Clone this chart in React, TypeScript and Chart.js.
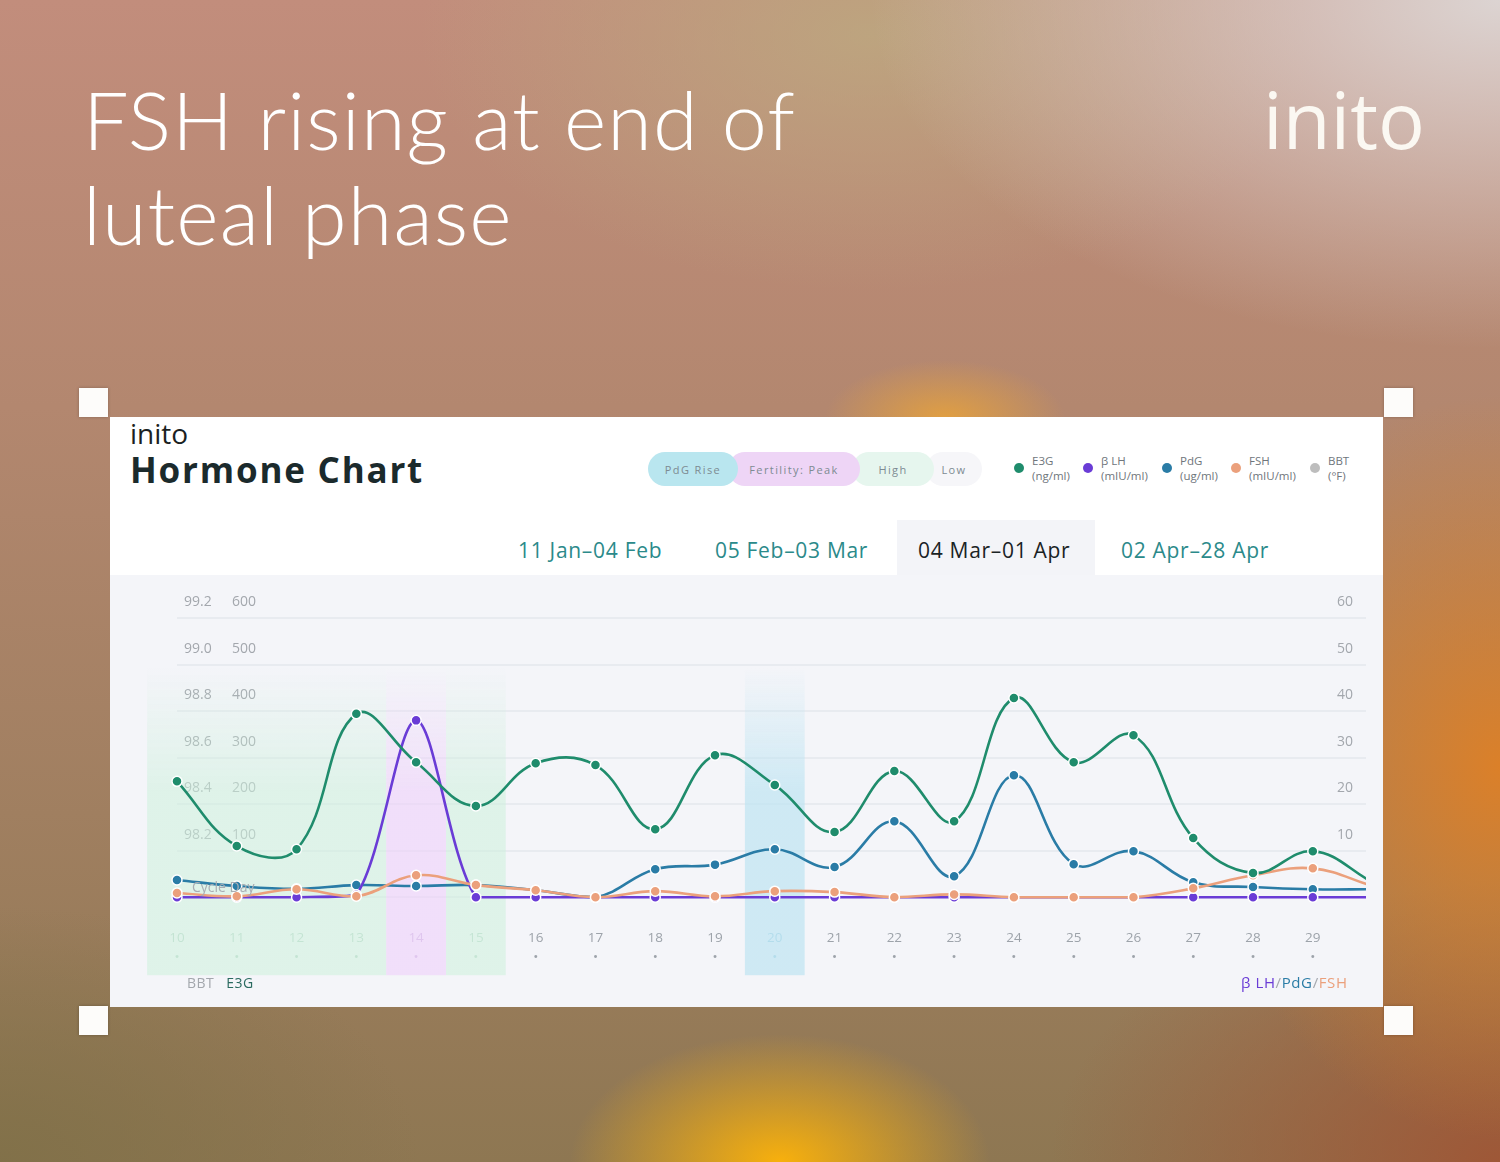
import React, { useEffect, useRef } from 'react';
import { Chart, registerables } from 'chart.js';

Chart.register(...registerables);

// ---- data ----
const days = [10, 11, 12, 13, 14, 15, 16, 17, 18, 19, 20, 21, 22, 23, 24, 25, 26, 27, 28, 29, 30];
const tickDays = [10, 11, 12, 13, 14, 15, 16, 17, 18, 19, 20, 21, 22, 23, 24, 25, 26, 27, 28, 29];
const e3g = [249, 110, 103, 394, 290, 196, 288, 284, 146, 305, 241, 140, 271, 163, 428, 290, 348, 127, 52, 99, 32];
const lh = [0, 0, 0, 0.5, 38, 0, 0, 0, 0, 0, 0, 0, 0, 0, 0, 0, 0, 0, 0, 0, 0];
const pdg = [3.7, 2.4, 1.8, 2.6, 2.4, 2.6, 1.5, 0, 6, 7, 10.3, 6.5, 16.3, 4.5, 26.2, 7.1, 9.9, 3.2, 2.2, 1.7, 1.7];
const fsh = [0.9, 0.2, 1.7, 0.2, 4.7, 2.6, 1.5, 0, 1.3, 0.2, 1.3, 1.1, 0, 0.6, 0, 0, 0, 1.9, 4.7, 6.2, 2.4];
const e3gTicks = [0, 100, 200, 300, 400, 500, 600];
const bbtTicks = [98.0, 98.2, 98.4, 98.6, 98.8, 99.0, 99.2];
const hormoneTicks = [0, 10, 20, 30, 40, 50, 60];
const bandStart = [10, 14, 15, 20];
const bandEnd = [13, 14, 15, 20];
const bandKind = ['high', 'peak', 'high', 'rise'];

const COLORS = {
  e3g: '#1f8c6c',
  lh: '#6a3cd6',
  pdg: '#2a7ca6',
  fsh: '#eba07c',
  bbt: '#bdbdbd',
};

const bandColor: Record<string, string> = {
  high: 'rgba(205,240,220,0.55)',
  peak: 'rgba(238,208,250,0.6)',
  rise: 'rgba(190,228,242,0.7)',
};

const FONT = "'Open Sans', 'Noto Sans', sans-serif";

const bandPlugin = {
  id: 'bands',
  beforeDatasetsDraw(chart: any) {
    const { ctx, chartArea, scales } = chart;
    const x = scales.x;
    ctx.save();
    for (let i = 0; i < bandStart.length; i++) {
      const x1 = x.getPixelForValue(bandStart[i] - 0.5);
      const x2 = x.getPixelForValue(bandEnd[i] + 0.5);
      const top = chartArea.top + 50;
      const bottom = chartArea.bottom + 78;
      const col = bandColor[bandKind[i]];
      const g = ctx.createLinearGradient(0, top, 0, bottom);
      g.addColorStop(0, col.replace(/[\d.]+\)$/, '0)'));
      g.addColorStop(0.4, col);
      g.addColorStop(1, col);
      ctx.fillStyle = g;
      ctx.fillRect(x1, top, x2 - x1, bottom - top);
    }
    ctx.restore();
  },
};

function makeDs(label: string, data: number[], color: string, axis: string, order: number, tension = 0.4) {
  return {
    label,
    data: days.map((d, i) => ({ x: d, y: data[i] })),
    borderColor: color,
    backgroundColor: color,
    pointBackgroundColor: color,
    pointBorderColor: '#ffffff',
    pointBorderWidth: 1.5,
    pointRadius: days.map((d) => (d === 30 ? 0 : 5)),
    borderWidth: 2.6,
    tension,
    yAxisID: axis,
    order,
    clip: { left: 8, right: 0, top: 20, bottom: 20 },
  };
}

const flatFit = (s: any) => {
  s.width = 0;
  s.paddingTop = 0;
  s.paddingBottom = 0;
};

function HormoneChart() {
  const ref = useRef<HTMLCanvasElement | null>(null);
  useEffect(() => {
    if (!ref.current) return;
    const chart = new Chart(ref.current, {
      type: 'line',
      data: {
        datasets: [
          makeDs('E3G', e3g, COLORS.e3g, 'y', 0),
          makeDs('FSH', fsh, COLORS.fsh, 'y2', 1),
          makeDs('β LH', lh, COLORS.lh, 'y2', 2, 0.3),
          makeDs('PdG', pdg, COLORS.pdg, 'y2', 3),
        ],
      },
      options: {
        animation: false,
        responsive: false,
        maintainAspectRatio: false,
        layout: { padding: { left: 67, right: 17, top: 43, bottom: 14 } },
        plugins: { legend: { display: false }, tooltip: { enabled: false } },
        scales: {
          x: {
            type: 'linear',
            min: 10,
            max: 29.89,
            grid: { display: false },
            border: { display: false },
            afterBuildTicks: (axis: any) => {
              axis.ticks = tickDays.map((v) => ({ value: v }));
            },
            ticks: {
              padding: 24,
              maxRotation: 0,
              autoSkip: false,
              font: { family: FONT, size: 13.5, lineHeight: 1.4 },
              color: (c: any) => {
                const v = c.tick && c.tick.value;
                if (v >= 10 && v <= 13) return '#b9d6c8';
                if (v === 14) return '#c9b7dc';
                if (v === 15) return '#bcd8cb';
                if (v === 20) return '#9ccbdc';
                return '#9da3aa';
              },
              callback: (v: any) => [String(v), '•'],
            },
          },
          yb: {
            position: 'left',
            min: 98.0,
            max: 99.2,
            afterBuildTicks: (axis: any) => {
              axis.ticks = bbtTicks.map((v) => ({ value: v }));
            },
            afterFit: flatFit,
            grid: { display: false },
            border: { display: false },
            ticks: {
              mirror: true,
              padding: 7,
              labelOffset: -16,
              color: '#a3a7ad',
              font: { family: FONT, size: 14 },
              callback: (v: any) => (Math.abs(v - 98) < 0.01 ? '' : Number(v).toFixed(1)),
            },
          },
          y: {
            position: 'left',
            min: 0,
            max: 600,
            afterBuildTicks: (axis: any) => {
              axis.ticks = e3gTicks.map((v) => ({ value: v }));
            },
            afterFit: flatFit,
            grid: { display: true, color: '#e8ebf0', lineWidth: 2, drawTicks: false },
            border: { display: false },
            ticks: {
              mirror: true,
              padding: 55,
              labelOffset: -16,
              color: '#a3a7ad',
              font: { family: FONT, size: 14 },
              callback: (v: any) => (v === 0 ? '' : String(v)),
            },
          },
          y2: {
            position: 'right',
            min: 0,
            max: 60,
            afterBuildTicks: (axis: any) => {
              axis.ticks = hormoneTicks.map((v) => ({ value: v }));
            },
            afterFit: flatFit,
            grid: { display: false },
            border: { display: false },
            ticks: {
              mirror: true,
              padding: -13,
              labelOffset: -16,
              color: '#a3a7ad',
              font: { family: FONT, size: 14 },
              callback: (v: any) => (v === 0 ? '' : String(v)),
            },
          },
        },
      } as any,
      plugins: [bandPlugin],
    });
    return () => chart.destroy();
  }, []);
  return <canvas ref={ref} width={1273} height={430} style={{ position: 'absolute', left: 0, top: 0 }} />;
}

const legendItems = [
  { name: 'E3G', unit: '(ng/ml)', color: COLORS.e3g, x: 1019 },
  { name: 'β LH', unit: '(mIU/ml)', color: COLORS.lh, x: 1088 },
  { name: 'PdG', unit: '(ug/ml)', color: COLORS.pdg, x: 1167 },
  { name: 'FSH', unit: '(mIU/ml)', color: COLORS.fsh, x: 1236 },
  { name: 'BBT', unit: '(°F)', color: COLORS.bbt, x: 1315 },
];

const pills = [
  { label: 'PdG Rise', bg: '#b9e6ef', x: 648, w: 90 },
  { label: 'Fertility: Peak', bg: '#eed5f6', x: 728, w: 132 },
  { label: 'High', bg: '#e6f6ee', x: 852, w: 82 },
  { label: 'Low', bg: '#f6f6f9', x: 926, w: 56 },
];

const tabs = [
  { label: '11 Jan–04 Feb', x: 518, active: false },
  { label: '05 Feb–03 Mar', x: 715, active: false },
  { label: '04 Mar–01 Apr', x: 918, active: true },
  { label: '02 Apr–28 Apr', x: 1121, active: false },
];

const handle = (left: number, top: number) => (
  <div
    key={`${left}-${top}`}
    style={{
      position: 'absolute',
      left,
      top,
      width: 29,
      height: 29,
      background: '#fdfcfa',
      boxShadow: '0 0 3px rgba(0,0,0,0.25)',
    }}
  />
);

export default function App() {
  return (
    <div
      style={{
        position: 'absolute',
        left: 0,
        top: 0,
        width: 1500,
        height: 1162,
        overflow: 'hidden',
        fontFamily: FONT,
        background: [
          'radial-gradient(42% 30% at 100% 0%, rgba(220,212,210,1), rgba(220,212,210,0))',
          'radial-gradient(30% 22% at 58% 3%, rgba(188,170,128,0.8), rgba(188,170,128,0))',
          'radial-gradient(20% 32% at 100% 66%, rgba(222,128,38,0.95), rgba(222,128,38,0))',
          'radial-gradient(14% 11% at 52% 100%, rgba(248,176,12,1), rgba(248,176,12,0))',
          'radial-gradient(30% 24% at 100% 100%, rgba(160,84,52,0.9), rgba(160,84,52,0))',
          'radial-gradient(8% 5% at 63% 36%, rgba(236,165,55,0.8), rgba(236,165,55,0))',
          'radial-gradient(28% 22% at 0% 100%, rgba(128,112,72,0.9), rgba(128,112,72,0))',
          'linear-gradient(180deg, #c28d7c 0%, #b3876f 35%, #a07f60 70%, #8e7752 100%)',
        ].join(', '),
      }}
    >
      <div
        style={{
          position: 'absolute',
          left: 83,
          top: 71,
          color: '#ffffff',
          fontFamily: "'Lato', 'Open Sans', sans-serif",
          fontWeight: 300,
          fontSize: 81,
          lineHeight: '95px',
          letterSpacing: 1.1,
        }}
      >
        FSH rising at end of
        <br />
        luteal phase
      </div>
      <div
        style={{
          position: 'absolute',
          left: 1263,
          top: 69,
          color: '#fbf8f2',
          fontFamily: "'Open Sans', sans-serif",
          fontWeight: 500,
          fontSize: 78,
          letterSpacing: 0,
          lineHeight: '100px',
        }}
      >
        inito
      </div>

      {handle(79, 388)}
      {handle(1384, 388)}
      {handle(79, 1006)}
      {handle(1384, 1006)}

      <div
        style={{
          position: 'absolute',
          left: 110,
          top: 417,
          width: 1273,
          height: 590,
          background: '#ffffff',
          overflow: 'hidden',
        }}
      >
        <div style={{ position: 'absolute', left: 20, top: -1, fontSize: 28, color: '#1b1f22', lineHeight: '34px' }}>inito</div>
        <div
          style={{
            position: 'absolute',
            left: 20,
            top: 31,
            fontSize: 35,
            fontWeight: 700,
            color: '#1b2a2c',
            lineHeight: '44px',
            letterSpacing: 1.8,
          }}
        >
          Hormone Chart
        </div>

        {pills.map((p, i) => (
          <div
            key={p.label}
            style={{
              position: 'absolute',
              left: p.x - 110,
              top: 35,
              width: p.w,
              height: 34,
              borderRadius: 17,
              background: p.bg,
              zIndex: 10 - i,
              display: 'flex',
              alignItems: 'center',
              justifyContent: 'center',
              fontSize: 11,
              letterSpacing: 1.4,
              color: '#7d8b92',
            }}
          >
            {p.label}
          </div>
        ))}

        {legendItems.map((l) => (
          <div key={l.name} style={{ position: 'absolute', left: l.x - 110 - 5, top: 36 }}>
            <div
              style={{
                position: 'absolute',
                left: 0,
                top: 10,
                width: 10,
                height: 10,
                borderRadius: 5,
                background: l.color,
              }}
            />
            <div
              style={{
                position: 'absolute',
                left: 18,
                top: 0,
                fontSize: 11.5,
                lineHeight: '15px',
                color: '#6f767c',
                whiteSpace: 'nowrap',
              }}
            >
              {l.name}
              <br />
              {l.unit}
            </div>
          </div>
        ))}

        <div style={{ position: 'absolute', left: 787, top: 103, width: 198, height: 55, background: '#f3f4f8' }} />
        {tabs.map((t) => (
          <div
            key={t.label}
            style={{
              position: 'absolute',
              left: t.x - 110,
              top: 118,
              fontSize: 21,
              fontWeight: 500,
              color: t.active ? '#1a2325' : '#2b8a8a',
              whiteSpace: 'nowrap',
              lineHeight: '30px',
              letterSpacing: 0.7,
            }}
          >
            {t.label}
          </div>
        ))}

        <div style={{ position: 'absolute', left: 0, top: 158, width: 1273, height: 432, background: '#f4f5f9' }}>
          <HormoneChart />
          <div
            style={{
              position: 'absolute',
              left: 82,
              top: 302,
              fontSize: 14,
              color: '#a9adb3',
              pointerEvents: 'none',
            }}
          >
            Cycle Day
          </div>
          <div style={{ position: 'absolute', left: 77, top: 398, fontSize: 14, whiteSpace: 'nowrap', letterSpacing: 0.5 }}>
            <span style={{ color: '#a3a7ad' }}>BBT</span>
            <span style={{ color: '#2a6a60', marginLeft: 12 }}>E3G</span>
          </div>
          <div style={{ position: 'absolute', left: 1131, top: 397, fontSize: 15, whiteSpace: 'nowrap', letterSpacing: 0.6 }}>
            <span style={{ color: COLORS.lh }}>β LH</span>
            <span style={{ color: '#a3a7ad' }}>/</span>
            <span style={{ color: COLORS.pdg }}>PdG</span>
            <span style={{ color: '#a3a7ad' }}>/</span>
            <span style={{ color: COLORS.fsh }}>FSH</span>
          </div>
        </div>
      </div>
    </div>
  );
}
